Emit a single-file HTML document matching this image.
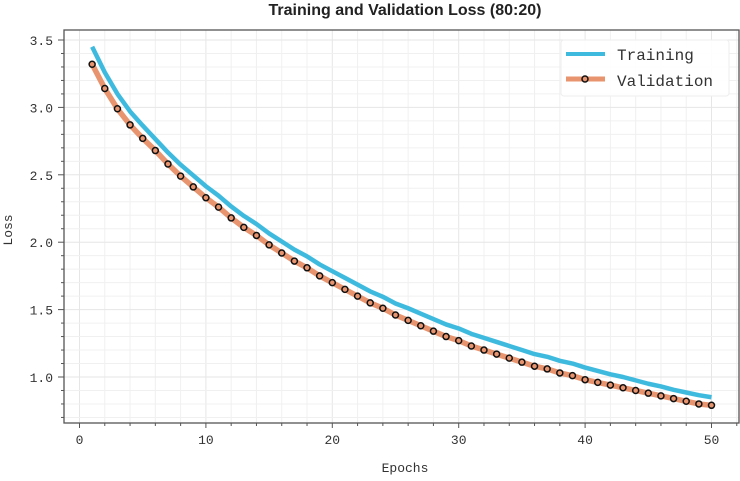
<!DOCTYPE html>
<html><head><meta charset="utf-8"><style>
body{margin:0;background:#fff;}
svg text{font-family:"Liberation Mono",monospace;fill:#333;}
</style></head><body>
<svg id="chart" width="740" height="476">
<text x="405" y="15" text-anchor="middle" style="font-family:'Liberation Sans',sans-serif;font-weight:bold;font-size:16px;fill:#222">Training and Validation Loss (80:20)</text>
<g id="grid"></g>
<g id="series"></g>
<rect x="64" y="30" width="675" height="393" fill="none" stroke="#555" stroke-width="1.3"/>
<g id="axes"></g>
<text x="405" y="472" text-anchor="middle" font-size="13">Epochs</text>
<text x="12" y="230" text-anchor="middle" font-size="13" transform="rotate(-90 12 230)">Loss</text>
<g>
<rect x="561" y="40" width="168" height="56" fill="#fff" fill-opacity="0.9" stroke="#eee" rx="3"/>
<line x1="566" y1="54" x2="605" y2="54" stroke="#3fbadf" stroke-width="4"/>
<text x="617" y="60" font-size="16">Training</text>
<line x1="566" y1="79" x2="605" y2="79" stroke="#e8956f" stroke-width="5"/>
<circle cx="585" cy="79" r="3" fill="#e8956f" stroke="#111" stroke-width="1.5"/>
<text x="617" y="86" font-size="16">Validation</text>
</g>
</svg>
<script>
const epochs=[];for(let i=1;i<=50;i++)epochs.push(i);
const validationLoss=[3.32,3.14,2.99,2.87,2.77,2.68,2.58,2.49,2.41,2.33,2.26,2.18,2.11,2.05,1.98,1.92,1.86,1.81,1.75,1.70,1.65,1.60,1.55,1.51,1.46,1.42,1.38,1.34,1.30,1.27,1.23,1.20,1.17,1.14,1.11,1.08,1.06,1.03,1.01,0.98,0.96,0.94,0.92,0.90,0.88,0.86,0.84,0.82,0.80,0.79];
const trainingLoss=[3.45,3.26,3.10,2.97,2.865,2.765,2.665,2.575,2.495,2.415,2.345,2.265,2.195,2.135,2.065,2.005,1.945,1.895,1.835,1.785,1.735,1.685,1.635,1.595,1.545,1.51,1.47,1.43,1.39,1.36,1.32,1.29,1.26,1.23,1.20,1.17,1.15,1.12,1.10,1.07,1.045,1.02,1.0,0.975,0.95,0.93,0.905,0.885,0.865,0.85];
const xTicks=[0,10,20,30,40,50];
const yTicks=[1.0,1.5,2.0,2.5,3.0,3.5];
const NS="http://www.w3.org/2000/svg";
const L=64,R=739,T=30,B=423;
const xs=v=>79.5+v*12.64;
const ys=v=>377-(v-1)*134.8;
function mk(tag,attrs,parent){const e=document.createElementNS(NS,tag);for(const k in attrs)e.setAttribute(k,attrs[k]);parent.appendChild(e);return e;}
const grid=document.getElementById('grid'),axes=document.getElementById('axes'),ser=document.getElementById('series');
for(let v=0;v<=56;v+=2){const x=xs(v);if(x<=L||x>=R)continue;
 const g=mk('line',{x1:x,x2:x,y1:T,y2:B,stroke:v%10==0?'#e6e6e6':'#f0f0f0','stroke-width':1},grid);
 
 const t=mk('line',{x1:x,x2:x,y1:B,y2:B+(v%10==0?5:3),stroke:'#555'},axes);
 }
for(let i=7;i<=36;i++){const v=i/10,y=ys(v);if(y<=T||y>=B)continue;
 const g=mk('line',{x1:L,x2:R,y1:y,y2:y,stroke:i%5==0?'#e6e6e6':'#f0f0f0','stroke-width':1},grid);
 
 const t=mk('line',{x1:L-(i%5==0?6:3),x2:L,y1:y,y2:y,stroke:'#555'},axes);
 }
xTicks.forEach(v=>{const t=mk('text',{x:xs(v),y:444,'text-anchor':'middle','font-size':13},axes);t.textContent=v;
 });
yTicks.forEach(v=>{const t=mk('text',{x:53,y:ys(v)+5,'text-anchor':'end','font-size':13},axes);t.textContent=v.toFixed(1);
 });
const tl=mk('polyline',{points:epochs.map((e,i)=>xs(e)+','+ys(trainingLoss[i])).join(' '),fill:'none',stroke:'#3fbadf','stroke-width':4.5,'stroke-linejoin':'round'},ser);

const vl=mk('polyline',{points:epochs.map((e,i)=>xs(e)+','+ys(validationLoss[i])).join(' '),fill:'none',stroke:'#e8956f','stroke-width':5.5,'stroke-linejoin':'round'},ser);

epochs.forEach((e,i)=>{const c=mk('circle',{cx:xs(e),cy:ys(validationLoss[i]),r:3,fill:'#e8956f',stroke:'#111','stroke-width':1.5},ser);
 });
</script>
</body></html>
